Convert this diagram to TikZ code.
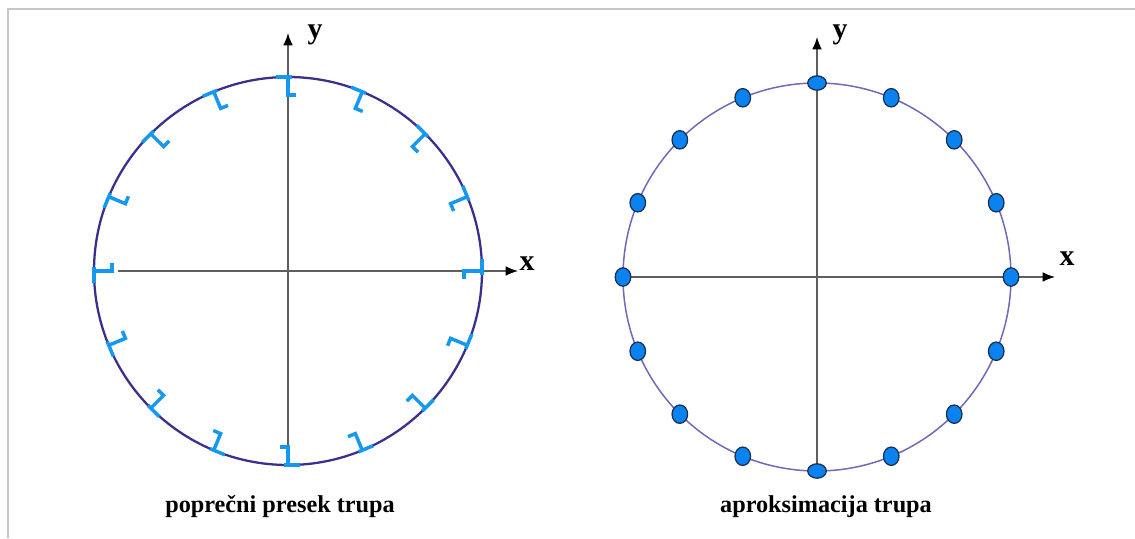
\documentclass[tikz,border=0pt]{standalone}
\usepackage{fontspec}
\setmainfont{Liberation Serif}
\usetikzlibrary{arrows.meta}
\definecolor{hullL}{RGB}{58,48,140}
\definecolor{hullR}{RGB}{112,104,184}
\definecolor{stiff}{RGB}{22,152,240}
\definecolor{dotfill}{RGB}{10,130,240}
\definecolor{dotedge}{RGB}{25,45,80}
\definecolor{axisgray}{RGB}{95,95,95}
\tikzset{
	axis/.style={draw=axisgray,line width=0.75pt,-{Latex[length=7pt,width=5.5pt,color=black]}},
	axlabel/.style={font=\fontsize{17}{17}\selectfont\bfseries,inner sep=0pt},
	caption/.style={font=\fontsize{13.8}{14}\selectfont\bfseries,inner sep=0pt},
	stiffener/.style={draw=stiff,line width=2pt},
	nodedot/.style={fill=dotfill,draw=dotedge,line width=0.7pt}
}
\begin{document}
\begin{tikzpicture}[x=0.02cm,y=0.02cm]
	\useasboundingbox (0,0) rectangle (1135,538);
	% frame
	\draw[gray!45,line width=1.1pt](8,0)--(8,529)--(1135,529);
	% left: cross section
	\coordinate (cl) at (288,267);
	\coordinate (xl0) at (118,267);
	\coordinate (xl1) at (518,267);
	\coordinate (yl0) at (288,72);
	\coordinate (yl1) at (288,505);
	\draw[axis](xl0)--(xl1);
	\draw[axis](yl0)--(yl1);
	\node[axlabel] (xlabL) at (527,274) {x};
	\node[axlabel] (ylabL) at (315,503) {y};
	\draw[hullL,line width=1.3pt](cl) circle(194);
	\foreach \a in {0,22.5,...,337.5}{
		\begin{scope}[shift={(cl)},rotate=\a]
			\draw[stiffener](194,12)--(194,-4);
			\draw[stiffener,line join=miter](194,0)--(176,0)--(176,-8);
		\end{scope}
	}
	\node[caption] (capL) at (280,31) {poprečni presek trupa};
	% right: approximation
	\coordinate (cr) at (817,261);
	\coordinate (xr0) at (623,261);
	\coordinate (xr1) at (1055,261);
	\coordinate (yr0) at (817,67);
	\coordinate (yr1) at (817,501);
	\draw[axis](xr0)--(xr1);
	\draw[axis](yr0)--(yr1);
	\node[axlabel] (xlabR) at (1067,279) {x};
	\node[axlabel] (ylabR) at (840,503) {y};
	\draw[hullR,line width=0.85pt](cr) circle(194);
	\foreach \a in {0,22.5,45,67.5,112.5,135,157.5,180,202.5,225,247.5,292.5,315,337.5}
		\filldraw[nodedot,shift={(cr)}](\a:194) ellipse(7.8 and 9.2);
	\foreach \a in {90,270}
		\filldraw[nodedot,shift={(cr)}](\a:194) ellipse(9.3 and 7.2);
	\node[caption] (capR) at (826,31) {aproksimacija trupa};
\end{tikzpicture}
\end{document}
